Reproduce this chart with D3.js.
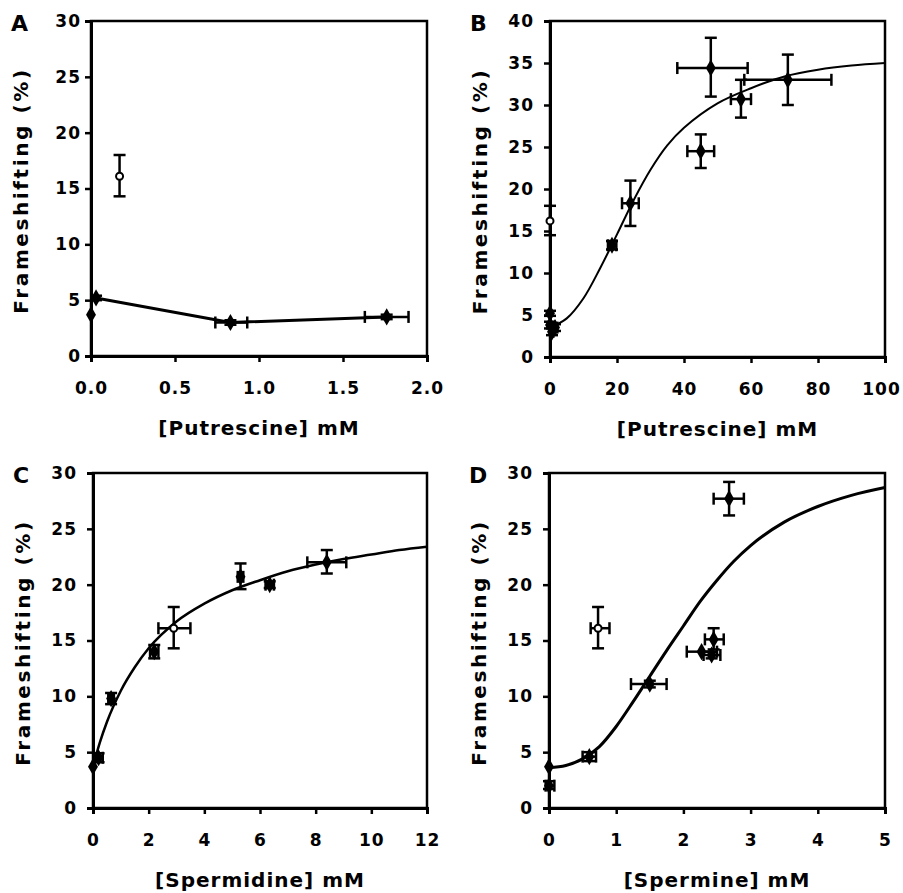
<!DOCTYPE html>
<html>
<head>
<meta charset="utf-8">
<script src="https://cdn.jsdelivr.net/npm/d3@7"></script>
<style>
  body { margin: 0; background: #fff; }
  text { font-family: "DejaVu Sans", "Liberation Sans", Arial, sans-serif; font-weight: bold; fill: #000; }
</style>
</head>
<body>
<script>
// ---- panel A : putrescine, low range ----
var aOpen = [{x: 0.17, y: 16.1, ylo: 14.3, yhi: 18.0}];
var aX = [0, 0.03, 0.83, 1.76];
var aY = [3.7, 5.2, 3.0, 3.5];
var aXlo = [0, 0.03, 0.74, 1.63];
var aXhi = [0, 0.03, 0.93, 1.89];
var aYlo = [3.7, 5.0, 2.8, 3.3];
var aYhi = [3.7, 5.4, 3.2, 3.7];
var aLineX = [0.03, 0.83, 1.76];
var aLineY = [5.2, 3.0, 3.5];

// ---- panel B : putrescine, high range ----
var bOpen = [{x: 0, y: 16.2, ylo: 14.5, yhi: 18.0}];
var bX = [0, 0, 0.6, 1.5, 18.5, 24, 45, 48, 57, 71];
var bY = [5.2, 3.8, 3.0, 3.5, 13.3, 18.3, 24.5, 34.4, 30.7, 33.0];
var bXlo = [0, 0, 0.2, 0.8, 17.3, 21.5, 41, 38, 54, 58];
var bXhi = [0, 0, 1.0, 2.2, 19.8, 26.5, 49, 59, 60, 84];
var bYlo = [4.9, 3.4, 2.6, 3.1, 12.8, 15.6, 22.5, 31.0, 28.5, 30.0];
var bYhi = [5.5, 4.2, 3.4, 3.9, 13.8, 21.0, 26.5, 38.0, 33.0, 36.0];
var bCurveX = [0, 5, 10, 15, 20, 25, 30, 35, 40, 50, 60, 70, 80, 90, 100];
var bCurveY = [3.5, 4.6, 7.0, 10.6, 14.6, 18.7, 22.3, 25.2, 27.3, 30.2, 32.0, 33.4, 34.2, 34.7, 35.0];

// ---- panel C : spermidine ----
var cOpen = [{x: 2.9, y: 16.1, ylo: 14.3, yhi: 18.0, xlo: 2.35, xhi: 3.5}];
var cX = [0, 0.2, 0.65, 2.2, 5.3, 6.35, 8.4];
var cY = [3.7, 4.5, 9.8, 14.0, 20.7, 20.0, 22.0];
var cXlo = [0, 0.05, 0.55, 2.05, 5.2, 6.2, 7.7];
var cXhi = [0, 0.35, 0.75, 2.35, 5.4, 6.5, 9.1];
var cYlo = [3.7, 4.1, 9.3, 13.4, 19.6, 19.7, 21.0];
var cYhi = [3.7, 4.9, 10.3, 14.6, 21.9, 20.3, 23.1];
var cCurveX = [0, 0.25, 0.5, 1, 1.5, 2, 3, 4, 5, 6, 7, 8, 9, 10, 11, 12];
var cCurveY = [3.7, 5.9, 7.7, 10.5, 12.6, 14.3, 16.7, 18.3, 19.5, 20.4, 21.2, 21.8, 22.3, 22.7, 23.1, 23.4];

// ---- panel D : spermine ----
var dOpen = [{x: 0.73, y: 16.1, ylo: 14.3, yhi: 18.0, xlo: 0.62, xhi: 0.9}];
var dX = [0, 0, 0.6, 1.5, 2.27, 2.42, 2.45, 2.68];
var dY = [3.7, 2.0, 4.6, 11.1, 14.0, 13.7, 15.1, 27.7];
var dXlo = [0, -0.05, 0.5, 1.22, 2.05, 2.3, 2.32, 2.45];
var dXhi = [0, 0.08, 0.7, 1.75, 2.5, 2.55, 2.6, 2.9];
var dYlo = [3.7, 1.7, 4.2, 10.8, 14.0, 13.4, 14.2, 26.2];
var dYhi = [3.7, 2.4, 5.0, 11.4, 14.0, 14.0, 16.1, 29.2];
var dCurveX = [0, 0.25, 0.5, 0.75, 1, 1.25, 1.5, 1.75, 2, 2.25, 2.5, 2.75, 3, 3.5, 4, 4.5, 5];
var dCurveY = [3.6, 3.8, 4.4, 5.5, 7.3, 9.5, 11.8, 14.1, 16.3, 18.5, 20.4, 22.1, 23.5, 25.6, 27.0, 28.0, 28.7];

var W = 903, H = 893;
var svg = d3.select("body").append("svg")
    .attr("width", W)
    .attr("height", H);

function zip(xs, ys, xlo, xhi, ylo, yhi) {
    return xs.map(function (x, i) {
        return {x: x, y: ys[i], xlo: xlo[i], xhi: xhi[i], ylo: ylo[i], yhi: yhi[i]};
    });
}

function panel(p) {
    var g = svg.append("g");
    var x = d3.scaleLinear().domain(p.xDomain).range([p.left, p.right]);
    var y = d3.scaleLinear().domain(p.yDomain).range([p.bottom, p.top]);

    // frame
    g.append("rect")
        .attr("x", p.left).attr("y", p.top)
        .attr("width", p.right - p.left).attr("height", p.bottom - p.top)
        .attr("fill", "none").attr("stroke", "#000").attr("stroke-width", 2.5);

    var yAxis = g.append("g")
        .attr("transform", "translate(" + p.left + ",0)")
        .call(d3.axisLeft(y).tickValues(p.yTicks).tickSize(6).tickPadding(p.yPad).tickFormat(d3.format("d")));
    var xAxis = g.append("g")
        .attr("transform", "translate(0," + p.bottom + ")")
        .call(d3.axisBottom(x).tickValues(p.xTicks).tickSize(6).tickPadding(20).tickFormat(p.xFormat));
    [xAxis, yAxis].forEach(function (ax) {
        ax.select(".domain").attr("stroke-width", 3);
        ax.selectAll(".tick line").attr("stroke-width", 2.5);
        ax.selectAll("text").attr("font-size", 17).attr("letter-spacing", 1);
    });
    // keep the last x label inside the page
    xAxis.selectAll(".tick:last-of-type text").attr("dx", p.lastDx || 0);

    // titles
    g.append("text")
        .attr("x", (p.left + p.right) / 2).attr("y", p.bottom + 79)
        .attr("text-anchor", "middle").attr("font-size", 20).attr("letter-spacing", 1)
        .text(p.xTitle);
    g.append("text")
        .attr("transform", "translate(" + (p.left - 63) + "," + ((p.top + p.bottom) / 2 + 2) + ") rotate(-90)")
        .attr("text-anchor", "middle").attr("font-size", 20).attr("letter-spacing", 2.6)
        .text("Frameshifting (%)");
    g.append("text")
        .attr("x", p.left - 80).attr("y", p.top + 10)
        .attr("font-size", 22)
        .text(p.letter);

    // curve / line
    var line = d3.line()
        .x(function (d) { return x(d[0]); })
        .y(function (d) { return y(d[1]); })
        .curve(p.curve);
    g.append("path")
        .datum(p.lineX.map(function (v, i) { return [v, p.lineY[i]]; }))
        .attr("d", line)
        .attr("fill", "none").attr("stroke", "#000").attr("stroke-width", p.lineWidth);

    var pts = p.points.concat(p.open.map(function (d) {
        return {x: d.x, y: d.y, xlo: d.xlo === undefined ? d.x : d.xlo, xhi: d.xhi === undefined ? d.x : d.xhi,
                ylo: d.ylo, yhi: d.yhi, open: true};
    }));

    var cap = 6;
    var eb = g.append("g").attr("stroke", "#000").attr("stroke-width", 2.5);
    pts.forEach(function (d) {
        if (d.yhi - d.ylo > 0) {
            eb.append("line").attr("x1", x(d.x)).attr("x2", x(d.x)).attr("y1", y(d.ylo)).attr("y2", y(d.yhi));
            eb.append("line").attr("x1", x(d.x) - cap).attr("x2", x(d.x) + cap).attr("y1", y(d.ylo)).attr("y2", y(d.ylo));
            eb.append("line").attr("x1", x(d.x) - cap).attr("x2", x(d.x) + cap).attr("y1", y(d.yhi)).attr("y2", y(d.yhi));
        }
        if (d.xhi - d.xlo > 0) {
            eb.append("line").attr("x1", x(d.xlo)).attr("x2", x(d.xhi)).attr("y1", y(d.y)).attr("y2", y(d.y));
            eb.append("line").attr("x1", x(d.xlo)).attr("x2", x(d.xlo)).attr("y1", y(d.y) - cap).attr("y2", y(d.y) + cap);
            eb.append("line").attr("x1", x(d.xhi)).attr("x2", x(d.xhi)).attr("y1", y(d.y) - cap).attr("y2", y(d.y) + cap);
        }
    });

    var diamond = d3.symbol().type(d3.symbolDiamond).size(85);
    g.selectAll("path.pt")
        .data(pts.filter(function (d) { return !d.open; }))
        .enter().append("path")
        .attr("class", "pt")
        .attr("d", diamond)
        .attr("transform", function (d) { return "translate(" + x(d.x) + "," + y(d.y) + ")"; })
        .attr("fill", "#000");
    g.selectAll("circle.open")
        .data(pts.filter(function (d) { return d.open; }))
        .enter().append("circle")
        .attr("class", "open")
        .attr("cx", function (d) { return x(d.x); })
        .attr("cy", function (d) { return y(d.y); })
        .attr("r", 3.5)
        .attr("fill", "#fff").attr("stroke", "#000").attr("stroke-width", 2);
}

panel({
    letter: "A", left: 91, right: 427, top: 21, bottom: 356, yPad: 4,
    xDomain: [0, 2], yDomain: [0, 30],
    xTicks: [0, 0.5, 1, 1.5, 2], yTicks: [0, 5, 10, 15, 20, 25, 30], xFormat: d3.format(".1f"),
    xTitle: "[Putrescine] mM",
    points: zip(aX, aY, aXlo, aXhi, aYlo, aYhi), open: aOpen,
    lineX: aLineX, lineY: aLineY, curve: d3.curveLinear, lineWidth: 3
});
panel({
    letter: "B", left: 550, right: 885, top: 21, bottom: 357, yPad: 10, lastDx: -4,
    xDomain: [0, 100], yDomain: [0, 40],
    xTicks: [0, 20, 40, 60, 80, 100], yTicks: [0, 5, 10, 15, 20, 25, 30, 35, 40], xFormat: d3.format("d"),
    xTitle: "[Putrescine] mM",
    points: zip(bX, bY, bXlo, bXhi, bYlo, bYhi), open: bOpen,
    lineX: bCurveX, lineY: bCurveY, curve: d3.curveCatmullRom, lineWidth: 2
});
panel({
    letter: "C", left: 93, right: 427, top: 473, bottom: 808, yPad: 10,
    xDomain: [0, 12], yDomain: [0, 30],
    xTicks: [0, 2, 4, 6, 8, 10, 12], yTicks: [0, 5, 10, 15, 20, 25, 30], xFormat: d3.format("d"),
    xTitle: "[Spermidine] mM",
    points: zip(cX, cY, cXlo, cXhi, cYlo, cYhi), open: cOpen,
    lineX: cCurveX, lineY: cCurveY, curve: d3.curveMonotoneX, lineWidth: 2.5
});
panel({
    letter: "D", left: 549, right: 885, top: 473, bottom: 808, yPad: 10,
    xDomain: [0, 5], yDomain: [0, 30],
    xTicks: [0, 1, 2, 3, 4, 5], yTicks: [0, 5, 10, 15, 20, 25, 30], xFormat: d3.format("d"),
    xTitle: "[Spermine] mM",
    points: zip(dX, dY, dXlo, dXhi, dYlo, dYhi), open: dOpen,
    lineX: dCurveX, lineY: dCurveY, curve: d3.curveMonotoneX, lineWidth: 3
});
</script>
</body>
</html>
